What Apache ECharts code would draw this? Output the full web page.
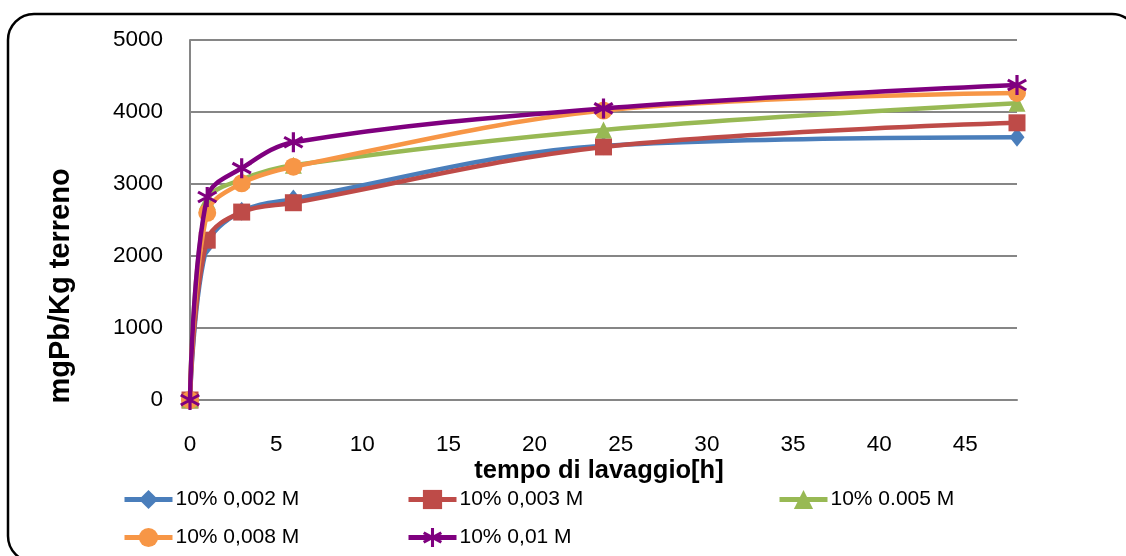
<!DOCTYPE html>
<html>
<head>
<meta charset="utf-8">
<script src="https://cdn.jsdelivr.net/npm/echarts@6/dist/echarts.min.js"></script>
<style>
html,body{margin:0;padding:0;background:#fff;}
#c{width:1126px;height:556px;}
</style>
</head>
<body>
<div id="c"></div>
<script>
const hours = [0, 1, 3, 6, 24, 48];
const s002 = [0, 2150, 2620, 2790, 3530, 3650];
const s003 = [0, 2220, 2610, 2740, 3515, 3850];
const s005 = [0, 2760, 3060, 3260, 3750, 4120];
const s008 = [0, 2600, 3010, 3240, 4020, 4265];
const s001 = [0, 2820, 3220, 3580, 4050, 4375];
const seriesNames = ['10% 0,002 M', '10% 0,003 M', '10% 0.005 M', '10% 0,008 M', '10% 0,01 M'];
const xTitle = 'tempo di lavaggio[h]';
const yTitle = 'mgPb/Kg terreno';

const FONT = '"Liberation Sans", Arial, sans-serif';
const colors = ['#4A7EBB', '#BE4B48', '#98B954', '#F79646', '#7F007F'];
const asterisk = 'path://M8.5,0L11.5,0L11.5,20L8.5,20Z M0.59,6.3L2.09,3.7L19.41,13.7L17.91,16.3Z M2.09,16.3L0.59,13.7L17.91,3.7L19.41,6.3Z';
const symbols = ['diamond', 'rect', 'triangle', 'circle', asterisk];
const sizes = [[15, 19], 17, 17, 18, 20];
const allData = [s002, s003, s005, s008, s001];

const series = allData.map((vals, i) => ({
  name: seriesNames[i],
  type: 'line',
  data: hours.map((h, j) => [h, vals[j]]),
  smooth: 0.35,
  symbol: symbols[i],
  symbolSize: sizes[i],
  showAllSymbol: true,
  color: colors[i],
  lineStyle: { width: 4.5, color: colors[i] },
  itemStyle: { color: colors[i] },
  z: 2 + i
}));

const legendPos = [
  { left: 117, top: 484 },
  { left: 401, top: 484 },
  { left: 772, top: 484 },
  { left: 117, top: 522 },
  { left: 401, top: 522 }
];
const legends = legendPos.map((p, i) => ({
  left: p.left, top: p.top,
  data: [seriesNames[i]],
  itemWidth: 48, itemHeight: 24, itemGap: 0,
  lineStyle: { width: 5 },
  textStyle: { fontFamily: FONT, fontSize: 21, color: '#000', padding: [0, 0, 0, -2] }
}));

const chart = echarts.init(document.getElementById('c'), null, { renderer: 'canvas' });
chart.setOption({
  animation: false,
  backgroundColor: '#fff',
  grid: { left: 190, right: 109, top: 40, bottom: 156, containLabel: false },
  legend: legends,
  xAxis: {
    type: 'value', min: 0, max: 48, interval: 5,
    axisLine: { show: true, lineStyle: { color: '#868686', width: 2 } },
    axisTick: { show: false },
    splitLine: { show: false },
    axisLabel: { showMaxLabel: false, margin: 33, fontFamily: FONT, fontSize: 22.5, color: '#000' }
  },
  yAxis: {
    type: 'value', min: 0, max: 5000, interval: 1000,
    axisLine: { show: true, lineStyle: { color: '#868686', width: 2 } },
    axisTick: { show: false },
    splitLine: { show: true, lineStyle: { color: '#868686', width: 2 } },
    axisLabel: { margin: 27, fontFamily: FONT, fontSize: 22.5, color: '#000', formatter: v => String(v) }
  },
  graphic: [
    { type: 'rect', shape: { x: 8, y: 14, width: 1130, height: 548, r: 26 },
      style: { fill: null, stroke: '#000', lineWidth: 2.5 }, z: 100, silent: true },
    { type: 'text', x: 599, y: 471, style: { text: xTitle, fontFamily: FONT, fontWeight: 'bold', fontSize: 25.5, fill: '#000', align: 'center', verticalAlign: 'middle' }, z: 100 },
    { type: 'text', x: 61, y: 286, rotation: Math.PI / 2, style: { text: yTitle, fontFamily: FONT, fontWeight: 'bold', fontSize: 29, fill: '#000', align: 'center', verticalAlign: 'middle' }, z: 100 }
  ],
  series: series
});
</script>
</body>
</html>
